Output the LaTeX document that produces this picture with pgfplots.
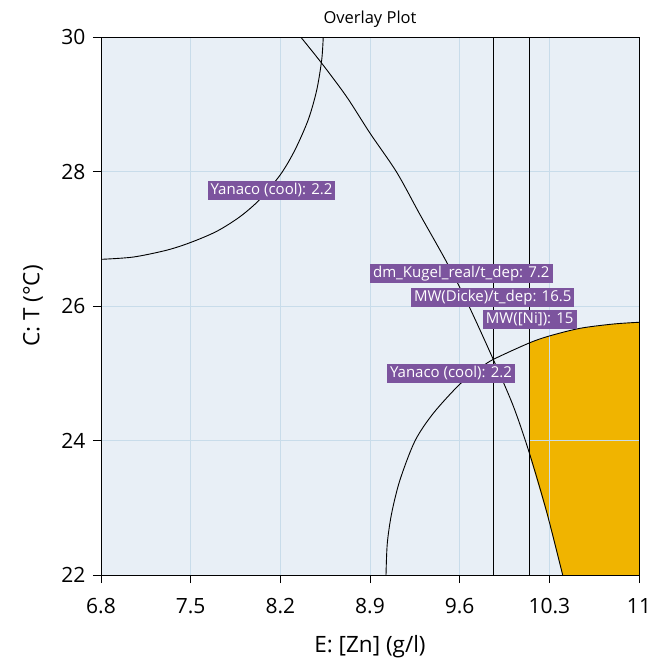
\documentclass[border=0pt]{standalone}
\usepackage{fontspec}
\setmainfont{Open Sans}
\usepackage{pgfplots}
\pgfplotsset{compat=1.18}
\definecolor{bgblue}{RGB}{232,239,246}
\definecolor{gridblue}{RGB}{200,220,234}
\definecolor{lblpurple}{RGB}{124,84,158}
\definecolor{feasible}{RGB}{240,180,0}
\begin{document}
\begin{tikzpicture}
\begin{axis}[
  at={(0pt,0pt)}, anchor=south west,
  scale only axis, width=538pt, height=538pt,
  xmin=6.8, xmax=11, ymin=22, ymax=30,
  xtick={6.8,7.5,8.2,8.9,9.6,10.3,11},
  xticklabels={6.8,7.5,8.2,8.9,9.6,10.3,11},
  ytick={22,24,26,28,30},
  set layers,
  grid=major, major grid style={gridblue, line width=1pt},
  axis background/.style={fill=bgblue},
  tick align=outside, tick pos=left, major tick length=8pt,
  tick style={black, line width=0.9pt},
  axis line style={black, line width=1pt},
  /pgf/number format/assume math mode=true,
  ticklabel style={font=\fontsize{21}{21}\selectfont},
  xticklabel style={yshift=-12pt},
  yticklabel style={xshift=-4pt},
  xlabel={E: [Zn] (g/l)}, ylabel={C: T (°C)},
  label style={font=\fontsize{22.5}{22.5}\selectfont},
  xlabel style={at={([yshift=-72pt]axis description cs:0.5,0)}, anchor=center},
  ylabel style={at={([xshift=-68pt]axis description cs:0,0.5)}, anchor=center},
  title={Overlay Plot},
  title style={font=\fontsize{16.5}{16.5}\selectfont, at={([yshift=12pt]axis description cs:0.5,1)}, anchor=center},
  clip=true,
]
% feasible region
\addplot[fill=feasible, draw=none, on layer=axis background] coordinates {
 (10.143,25.45) (10.143,23.80) (10.279,22.917) (10.404,22) (11,22) (11,25.758)
 (10.799,25.732) (10.539,25.668) (10.3,25.554) (10.143,25.45)} -- cycle;
% upper Yanaco circle
\addplot[black, line width=0.9pt, smooth] coordinates {
 (6.8,26.694) (7.052,26.728) (7.313,26.83) (7.5,26.945) (7.703,27.11) (7.885,27.328)
 (8.041,27.587) (8.203,27.96) (8.314,28.32)
 (8.418,28.77) (8.484,29.21) (8.523,29.66) (8.535,30.0)};
% dm_Kugel line
\addplot[black, line width=0.9pt, smooth] coordinates {
 (8.359,30) (8.523,29.61) (8.718,29.11) (8.9,28.57) (9.108,27.99) (9.290,27.36)
 (9.499,26.65) (9.667,26.02) (9.862,25.207) (10.019,24.51) (10.143,23.82)
 (10.279,22.94) (10.404,22)};
% vertical lines
\addplot[black, line width=0.9pt] coordinates {(9.862,22) (9.862,30)};
\addplot[black, line width=0.9pt] coordinates {(10.143,22) (10.143,30)};
% lower Yanaco circle
\addplot[black, line width=0.9pt, smooth] coordinates {
 (9.025,22) (9.035,22.471) (9.069,22.917) (9.134,23.413) (9.251,23.993) (9.394,24.404)
 (9.600,24.835) (9.759,25.074) (9.862,25.205) (10.143,25.45) (10.3,25.554)
 (10.539,25.668) (10.799,25.732) (11,25.758)};
\coordinate (L1) at (axis cs:8.131,27.717);
\coordinate (L2) at (axis cs:9.613,26.486);
\coordinate (L3) at (axis cs:9.858,26.126);
\coordinate (L4) at (axis cs:10.147,25.796);
\coordinate (L5) at (axis cs:9.532,24.996);
\end{axis}
\tikzset{lbl/.style={fill=lblpurple, text=white, inner xsep=3pt, inner ysep=2.5pt,
  font=\fontsize{15}{15}\selectfont, text height=10.5pt, text depth=3pt}}
\node[lbl] at (L1) {Yanaco (cool): 2.2};
\node[lbl] at (L2) {dm\_Kugel\_real/t\_dep: 7.2};
\node[lbl] at (L3) {MW(Dicke)/t\_dep: 16.5};
\node[lbl] at (L4) {MW([Ni]): 15};
\node[lbl] at (L5) {Yanaco (cool): 2.2};
\pgfresetboundingbox
\path (-101pt,-84pt) rectangle (549pt,575pt);
\end{tikzpicture}
\end{document}
